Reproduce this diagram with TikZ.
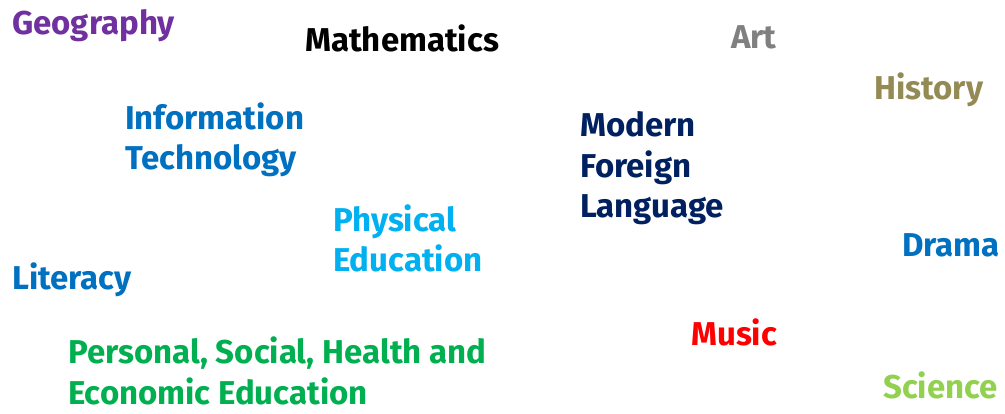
\documentclass[tikz,border=0pt]{standalone}
\usepackage{fontspec}
\setmainfont{Fira Sans}[UprightFont=* Bold]
\definecolor{cpurple}{HTML}{7030A0}
\definecolor{cgray}{HTML}{808080}
\definecolor{colive}{HTML}{948A54}
\definecolor{cblue}{HTML}{0070C0}
\definecolor{cnavy}{HTML}{002060}
\definecolor{clight}{HTML}{00B0F0}
\definecolor{cred}{HTML}{FF0000}
\definecolor{cgreen}{HTML}{00B050}
\definecolor{clgreen}{HTML}{92D050}
\tikzset{subj/.style={anchor=base west,inner sep=0pt,align=left,font=\fontsize{33}{40.5}\selectfont}}
\begin{document}
\begin{tikzpicture}[x=1pt,y=-1pt]
\useasboundingbox (0,0) rectangle (1005,414);
\node[subj,text=cpurple] (geo) at (12,35) {Geography};
\node[subj,text=black] (math) at (305,52) {Mathematics};
\node[subj,text=cgray] (art) at (731,49) {Art};
\node[subj,text=colive] (hist) at (874,100) {History};
\node[subj,text=cblue] (it) at (125,170) {Information\\Technology};
\node[subj,text=cnavy] (mfl) at (580,218) {Modern\\Foreign\\Language};
\node[subj,text=clight] (pe) at (333,272) {Physical\\Education};
\node[subj,text=cblue] (drama) at (902,257) {Drama};
\node[subj,text=cblue] (lit) at (12,290) {Literacy};
\node[subj,text=cred] (music) at (691,345) {Music};
\node[subj,text=cgreen] (pshe) at (68,404) {Personal, Social, Health and\\Economic Education};
\node[subj,text=clgreen] (sci) at (883,398) {Science};
\end{tikzpicture}
\end{document}
